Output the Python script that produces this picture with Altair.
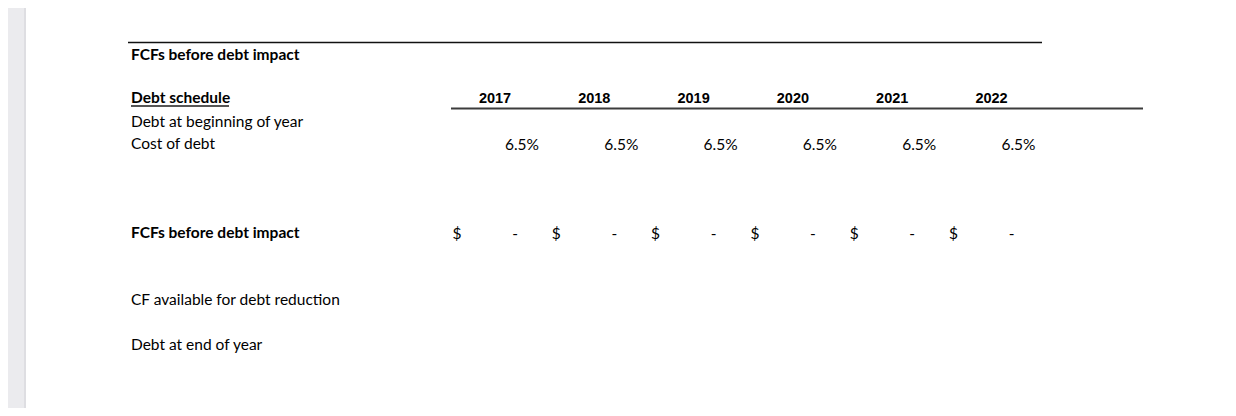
import altair as alt
import pandas as pd

# ---- data ----
years = ["2017", "2018", "2019", "2020", "2021", "2022"]
cost_of_debt = [6.5, 6.5, 6.5, 6.5, 6.5, 6.5]
fcf_before_debt = [0, 0, 0, 0, 0, 0]
top_title = "FCFs before debt impact"
section_title = "Debt schedule"
row_labels = ["Debt at beginning of year", "Cost of debt"]
bold_row_label = "FCFs before debt impact"
lower_labels = ["CF available for debt reduction", "Debt at end of year"]

# ---- layout (page pixel units) ----
W, H = 1220, 400
COL0, COLW = 495, 99.3          # centre of first year column, column pitch
ROW0, ROWH = 55, 22.3           # text centre of first sheet row, row pitch
LABEL_X = 131
FS = 15.5


def cx(i):
    return COL0 + COLW * i


def ry(r):
    return ROW0 + ROWH * r


xs = alt.Scale(domain=[8, 8 + W], range=[0, W])
ys = alt.Scale(domain=[8, 8 + H], range=[0, H])
X = lambda f: alt.X(f, type="quantitative", scale=xs, axis=None)
Y = lambda f: alt.Y(f, type="quantitative", scale=ys, axis=None)

CAL = "Lato"
ARI = "Liberation Sans"

# left grey strip
strip = alt.Chart(pd.DataFrame({"x": [8], "x2": [26], "y": [8], "y2": [8 + H]})).mark_rect(
    color="#ebebee"
).encode(x=X("x"), x2="x2", y=Y("y"), y2="y2")
strip_edge = alt.Chart(pd.DataFrame({"x": [24], "x2": [26], "y": [8], "y2": [8 + H]})).mark_rect(
    color="#dedee2"
).encode(x=X("x"), x2="x2", y=Y("y"), y2="y2")

# rules
rules_df = pd.DataFrame({
    "x": [128, 451, LABEL_X],
    "x2": [1042, 1143, 229],
    "y": [42.5, 108.5, 106],
    "w": [1.3, 2.2, 2.0],
    "c": ["#111111", "#3c3c3c", "#555555"],
})
rules = alt.Chart(rules_df).mark_rule().encode(
    x=X("x"), x2="x2", y=Y("y"),
    strokeWidth=alt.StrokeWidth("w:Q", scale=None, legend=None),
    color=alt.Color("c:N", scale=None, legend=None),
)

# left labels
lab_df = pd.DataFrame({
    "text": [top_title, section_title, bold_row_label] + row_labels + lower_labels,
    "r": [0, 2, 8, 3, 4, 11, 13],
    "bold": [True, True, True, False, False, False, False],
})
lab_df["x"] = LABEL_X
lab_df["y"] = lab_df["r"].map(ry)
lab_df.loc[lab_df.r == 2, "y"] -= 1.5
bold_labels = alt.Chart(lab_df[lab_df.bold]).mark_text(
    align="left", baseline="middle", font=CAL, fontSize=FS, fontWeight="bold", color="#000"
).encode(x=X("x"), y=Y("y"), text="text:N")
plain_labels = alt.Chart(lab_df[~lab_df.bold]).mark_text(
    align="left", baseline="middle", font=CAL, fontSize=FS, color="#000"
).encode(x=X("x"), y=Y("y"), text="text:N")

# year headers
yr_df = pd.DataFrame({"year": years})
yr_df["x"] = [cx(i) for i in range(len(years))]
yr_df["y"] = ry(2) - 1
year_text = alt.Chart(yr_df).mark_text(
    align="center", baseline="middle", font=ARI, fontSize=14.5, fontWeight="bold", color="#000"
).encode(x=X("x"), y=Y("y"), text="year:N")

# cost of debt
cod_df = pd.DataFrame({"v": cost_of_debt})
cod_df["label"] = cod_df["v"].map(lambda v: f"{v:.1f}%")
cod_df["x"] = [cx(i) + 44 for i in range(len(years))]
cod_df["y"] = ry(4) + 1
cod_text = alt.Chart(cod_df).mark_text(
    align="right", baseline="middle", font=CAL, fontSize=FS, color="#000"
).encode(x=X("x"), y=Y("y"), text="label:N")

# FCFs row: $ and "-"
fcf_df = pd.DataFrame({"v": fcf_before_debt})
fcf_df["label"] = fcf_df["v"].map(lambda v: "-" if v == 0 else f"{v:,.0f}")
fcf_df["xd"] = [cx(i) - 38 for i in range(len(years))]
fcf_df["xv"] = [cx(i) + 20 for i in range(len(years))]
fcf_df["y"] = ry(8) + 1
fcf_df["dollar"] = "$"
dollar_text = alt.Chart(fcf_df).mark_text(
    align="center", baseline="middle", font=CAL, fontSize=FS, color="#000"
).encode(x=X("xd"), y=Y("y"), text="dollar:N")
val_text = alt.Chart(fcf_df).mark_text(
    align="center", baseline="middle", font=CAL, fontSize=FS, color="#000"
).encode(x=X("xv"), y=Y("y"), text="label:N")

chart = alt.layer(
    strip, strip_edge, rules, bold_labels, plain_labels, year_text, cod_text, dollar_text, val_text
).properties(width=W, height=H, padding=0, autosize=alt.AutoSizeParams(type="none")).configure(
    background="white"
).configure_view(stroke=None)

chart.save("out.html", embed_options={"renderer": "svg", "actions": False})
